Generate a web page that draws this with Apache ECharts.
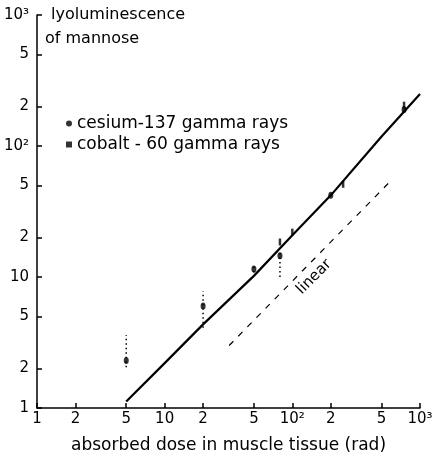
<!DOCTYPE html>
<html><head><meta charset="utf-8">
<script src="https://cdn.jsdelivr.net/npm/echarts@6/dist/echarts.min.js"></script>
<style>html,body{margin:0;padding:0;background:#fff}#c{width:437px;height:456px}</style>
</head><body><div id="c"></div>
<script>
const tickValues = [1, 2, 5, 10, 20, 50, 100, 200, 500, 1000];
const tickLabels = ['1', '2', '5', '10', '2', '5', '10²', '2', '5', '10³'];
const cesiumDose = [5, 20, 50, 80, 200, 750];
const cesiumLum = [2.3, 6.0, 11.5, 14.5, 42, 190];
const errDose = [5, 20, 50, 80];
const errLow = [2.05, 4.1, 10.8, 10];
const errHigh = [3.6, 7.8, 12.5, 15.5];
const cobaltDose = [80, 100, 250, 750];
const cobaltLum = [18.5, 22, 51, 205];
const fitDose = [5, 10, 20, 50, 100, 200, 500, 1000];
const fitLum = [1.12, 2.2, 4.35, 10.2, 20.8, 42, 118, 249];
const linearDose = [32, 610];
const linearLum = [3.0, 56];
const cesiumName = 'cesium-137 gamma rays';
const cobaltName = 'cobalt - 60 gamma rays';

const FONT = 'DejaVu Sans';
function fmt(v) {
  const i = tickValues.findIndex(t => Math.abs(t - v) / t < 1e-6);
  return i >= 0 ? tickLabels[i] : '';
}
function axisBase() {
  return {
    type: 'log', logBase: 10, min: 1, max: 1000,
    axisLine: { lineStyle: { color: '#000', width: 1.5 } },
    axisTick: { inside: true, length: 5, customValues: tickValues, lineStyle: { color: '#000', width: 1.5 } },
    axisLabel: { customValues: tickValues, formatter: fmt, color: '#000', fontSize: 15, fontFamily: FONT },
    splitLine: { show: false },
    minorTick: { show: false }
  };
}
const xAxis = axisBase();
xAxis.axisLabel.margin = 4;
xAxis.name = 'absorbed dose in muscle tissue (rad)';
xAxis.nameLocation = 'middle';
xAxis.nameGap = 29;
xAxis.nameTextStyle = { color: '#000', fontSize: 17, fontFamily: FONT };
const yAxis = axisBase();
yAxis.axisLabel.margin = 8;

const chart = echarts.init(document.getElementById('c'), null, { renderer: 'canvas' });
chart.setOption({
  animation: false,
  backgroundColor: '#fff',
  grid: { left: 37, right: 17, top: 15, bottom: 48, containLabel: false, outerBoundsMode: 'none' },
  xAxis: xAxis,
  yAxis: yAxis,
  legend: {
    orient: 'vertical', left: 61, top: 110, itemGap: 4,
    itemWidth: 6, itemHeight: 6,
    textStyle: { color: '#000', fontSize: 17, fontFamily: FONT },
    data: [{ name: cesiumName, icon: 'circle' }, { name: cobaltName, icon: 'rect' }]
  },
  graphic: [
    { type: 'text', left: 51, top: 7, style: { text: 'lyoluminescence', fill: '#000', font: '16px "DejaVu Sans"' } },
    { type: 'text', left: 45, top: 31, style: { text: 'of mannose', fill: '#000', font: '16px "DejaVu Sans"' } },
    { type: 'text', x: 314, y: 277, rotation: Math.PI / 4, style: { text: 'linear', fill: '#000', font: '15px "DejaVu Sans"', align: 'center', verticalAlign: 'middle' } }
  ],
  series: [
    {
      type: 'line', data: fitDose.map((d, i) => [d, fitLum[i]]), showSymbol: false, silent: true,
      lineStyle: { color: '#000', width: 2.2 }
    },
    {
      type: 'line', data: linearDose.map((d, i) => [d, linearLum[i]]), showSymbol: false, silent: true,
      lineStyle: { color: '#000', width: 1.2, type: [6, 7] }
    },
    {
      type: 'custom', silent: true,
      data: errDose.map((d, i) => [d, errLow[i], errHigh[i]]),
      encode: { x: 0, y: [1, 2] },
      renderItem: function (params, api) {
        const x = api.value(0);
        const p1 = api.coord([x, api.value(1)]);
        const p2 = api.coord([x, api.value(2)]);
        return { type: 'line', shape: { x1: p1[0], y1: p1[1], x2: p2[0], y2: p2[1] },
          style: { stroke: '#000', lineWidth: 1.5, lineDash: [1.5, 3] } };
      }
    },
    {
      name: cesiumName, type: 'scatter', symbol: 'circle', symbolSize: [5, 7],
      itemStyle: { color: '#000' },
      data: cesiumDose.map((d, i) => [d, cesiumLum[i]])
    },
    {
      name: cobaltName, type: 'scatter', symbol: 'rect', symbolSize: [2.5, 7],
      itemStyle: { color: '#000' },
      data: cobaltDose.map((d, i) => [d, cobaltLum[i]])
    }
  ]
});
</script>
</body></html>
